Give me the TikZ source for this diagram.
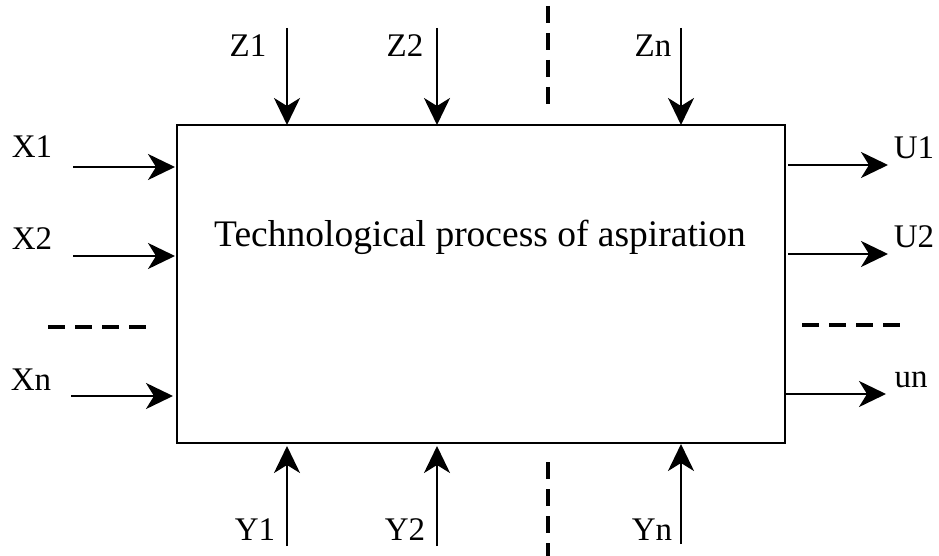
\documentclass[tikz,border=0pt]{standalone}
\usepackage{fontspec}
\setmainfont{Liberation Serif}
\usetikzlibrary{arrows.meta}
\begin{document}
\begin{tikzpicture}[x=1pt,y=-1pt,
  flow/.style={line width=2.4pt,-{Stealth[length=27pt,width=26pt,inset=8pt]}},
  gap/.style={line width=4pt,dash pattern=on 17pt off 10pt},
  lbl/.style={font=\fontsize{33}{33}\selectfont,inner sep=0pt}]
\useasboundingbox (0,0) rectangle (939,556);
\node[draw,line width=1.6pt,minimum width=608pt,minimum height=318pt,inner sep=0pt] (box) at (481,284) {};
\node[font=\fontsize{37.5}{37.5}\selectfont] (title) at (480,237) {Technological process of aspiration};
% top
\coordinate (z1s) at (287,28); \coordinate (z1e) at (287,125);
\coordinate (z2s) at (437,28); \coordinate (z2e) at (437,125);
\coordinate (zns) at (681,28); \coordinate (zne) at (681,125);
\draw[flow] (z1s) -- (z1e);
\draw[flow] (z2s) -- (z2e);
\draw[flow] (zns) -- (zne);
\node[lbl] (Z1) at (248,46) {Z1};
\node[lbl] (Z2) at (405,46) {Z2};
\node[lbl] (Zn) at (653,46) {Zn};
\coordinate (dta) at (548,6); \coordinate (dtb) at (548,104);
\draw[gap] (dta) -- (dtb);
% bottom
\coordinate (y1s) at (287,546); \coordinate (y1e) at (287,446);
\coordinate (y2s) at (437,546); \coordinate (y2e) at (437,446);
\coordinate (yns) at (681,544); \coordinate (yne) at (681,444);
\draw[flow] (y1s) -- (y1e);
\draw[flow] (y2s) -- (y2e);
\draw[flow] (yns) -- (yne);
\node[lbl] (Y1) at (255,530) {Y1};
\node[lbl] (Y2) at (405,530) {Y2};
\node[lbl] (Yn) at (652,530) {Yn};
\coordinate (dba) at (548,462); \coordinate (dbb) at (548,560);
\draw[gap] (dba) -- (dbb);
% left
\coordinate (x1s) at (73,167); \coordinate (x1e) at (175,167);
\coordinate (x2s) at (73,256); \coordinate (x2e) at (175,256);
\coordinate (xns) at (71,396); \coordinate (xne) at (173,396);
\draw[flow] (x1s) -- (x1e);
\draw[flow] (x2s) -- (x2e);
\draw[flow] (xns) -- (xne);
\node[lbl] (X1) at (32,147) {X1};
\node[lbl] (X2) at (32,239) {X2};
\node[lbl] (Xn) at (31,380) {Xn};
\coordinate (dla) at (48,327); \coordinate (dlb) at (148,327);
\draw[gap] (dla) -- (dlb);
% right
\coordinate (u1s) at (788,165); \coordinate (u1e) at (888,165);
\coordinate (u2s) at (788,254); \coordinate (u2e) at (888,254);
\coordinate (uns) at (786,394); \coordinate (une) at (886,394);
\draw[flow] (u1s) -- (u1e);
\draw[flow] (u2s) -- (u2e);
\draw[flow] (uns) -- (une);
\node[lbl] (U1) at (914,148) {U1};
\node[lbl] (U2) at (914,237) {U2};
\node[lbl] (un) at (911,380) {un};
\coordinate (dra) at (802,325); \coordinate (drb) at (904,325);
\draw[gap] (dra) -- (drb);
\end{tikzpicture}
\end{document}
